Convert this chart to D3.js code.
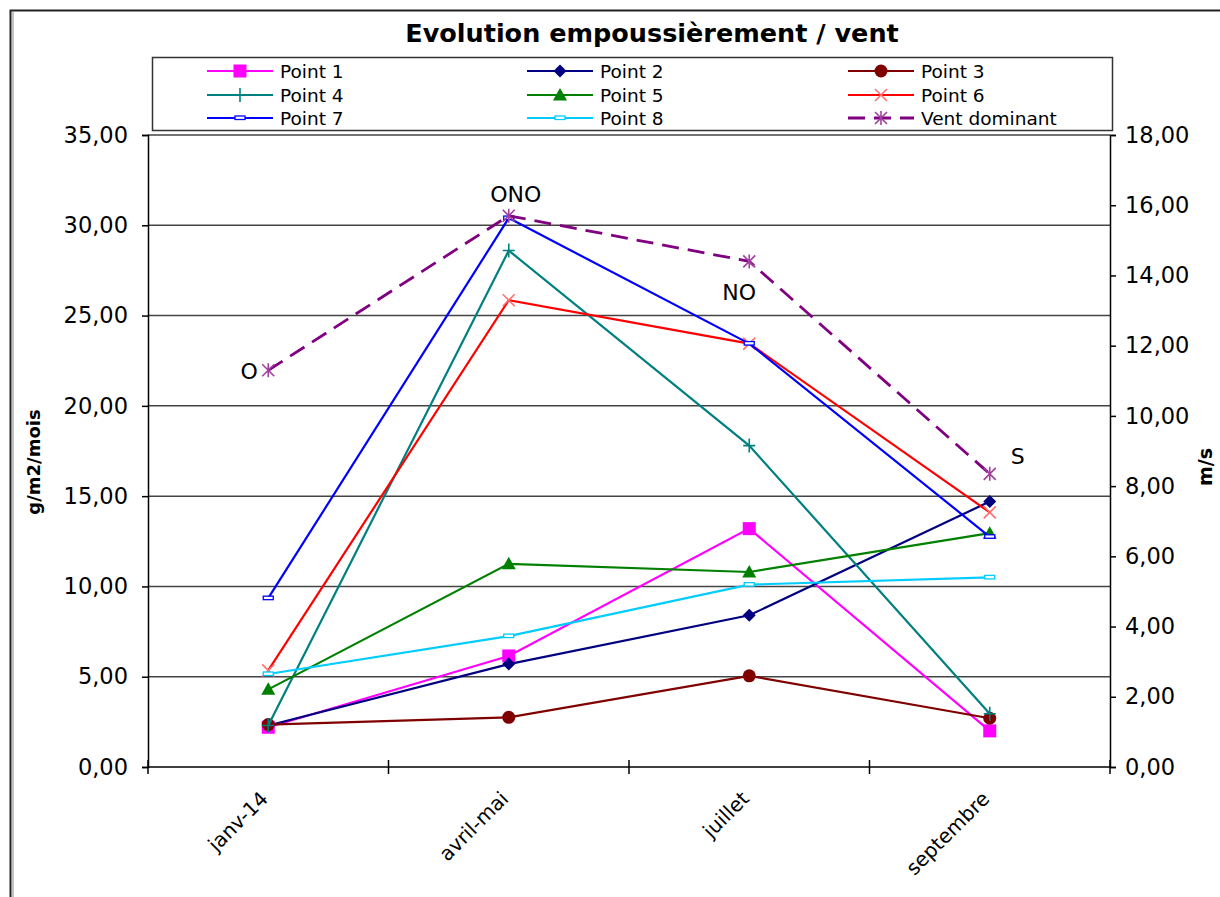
<!DOCTYPE html>
<html><head><meta charset="utf-8">
<script src="https://cdn.jsdelivr.net/npm/d3@7"></script>
<style>body{margin:0;background:#fff;overflow:hidden} text{font-family:"DejaVu Sans","Liberation Sans",Arial,sans-serif;fill:#000}</style>
</head><body><svg id="c" width="1220" height="897"></svg>
<script>
// ---- data ----
const categories = ["janv-14", "avril-mai", "juillet", "septembre"];
const point1 = [2.2, 6.15, 13.2, 2.0];
const point2 = [2.3, 5.7, 8.4, 14.7];
const point3 = [2.35, 2.75, 5.05, 2.7];
const point4 = [2.3, 28.6, 17.8, 2.95];
const point5 = [4.3, 11.25, 10.8, 12.95];
const point6 = [5.35, 25.85, 23.45, 14.1];
const point7 = [9.35, 30.4, 23.45, 12.75];
const point8 = [5.15, 7.25, 10.1, 10.5];
const ventDominant = [11.3, 15.7, 14.4, 8.35];
const ventLabels = ["O", "ONO", "NO", "S"];
const leftTicks = [0, 5, 10, 15, 20, 25, 30, 35];
const rightTicks = [0, 2, 4, 6, 8, 10, 12, 14, 16, 18];
const seriesNames = ["Point 1","Point 2","Point 3","Point 4","Point 5","Point 6","Point 7","Point 8","Vent dominant"];

// ---- styles ----
const series = [
  {name: seriesNames[0], values: point1, color: "#ff00ff", marker: "square", mcolor: "#ff00ff"},
  {name: seriesNames[1], values: point2, color: "#000080", marker: "diamond", mcolor: "#000080"},
  {name: seriesNames[2], values: point3, color: "#800000", marker: "circle", mcolor: "#800000"},
  {name: seriesNames[3], values: point4, color: "#008080", marker: "plus", mcolor: "#008080"},
  {name: seriesNames[4], values: point5, color: "#008000", marker: "triangle", mcolor: "#008000"},
  {name: seriesNames[5], values: point6, color: "#ff0000", marker: "x", mcolor: "#ff7070"},
  {name: seriesNames[6], values: point7, color: "#0000ff", marker: "dash", mcolor: "#0000ff"},
  {name: seriesNames[7], values: point8, color: "#00ccff", marker: "dash", mcolor: "#00ccff"},
  {name: seriesNames[8], values: ventDominant, color: "#800080", marker: "star", mcolor: "#a040a0", dashed: true, right: true}
];
const labelOffsets = [[-19, 9], [7, -14], [-10, 39], [28, -10]];

const svg = d3.select("#c");
const M = {left: 148, right: 1110, top: 135, bottom: 767};

// outer frame
svg.append("rect").attr("x", 10.5).attr("y", 10.5).attr("width", 1240).attr("height", 1000)
  .attr("fill", "none").attr("stroke", "#222").attr("stroke-width", 2);
svg.append("line").attr("x1", 13).attr("x2", 13).attr("y1", 12).attr("y2", 897).attr("stroke", "#888").attr("stroke-width", 1);

const x = d3.scaleBand().domain(categories).range([M.left, M.right]);
const cx = c => x(c) + x.bandwidth() / 2;
const yL = d3.scaleLinear().domain([0, 35]).range([M.bottom, M.top]);
const yR = d3.scaleLinear().domain([0, 18]).range([M.bottom, M.top]);
const fmt = v => d3.format(".2f")(v).replace(".", ",");

// gridlines
svg.append("g").selectAll("line").data(leftTicks.filter(t => t > 0)).join("line")
  .attr("x1", M.left).attr("x2", M.right).attr("y1", d => yL(d)).attr("y2", d => yL(d))
  .attr("stroke", "#444").attr("stroke-width", 1.5);

// left axis
const gL = svg.append("g").attr("transform", `translate(${M.left},0)`)
  .call(d3.axisLeft(yL).tickValues(leftTicks).tickFormat(fmt).tickSize(6).tickPadding(14));
// right axis
const gR = svg.append("g").attr("transform", `translate(${M.right},0)`)
  .call(d3.axisRight(yR).tickValues(rightTicks).tickFormat(fmt).tickSize(6).tickPadding(9));
[gL, gR].forEach(g => {
  g.select(".domain").attr("stroke", "#000").attr("stroke-width", 1.5);
  g.selectAll(".tick line").attr("stroke", "#000").attr("stroke-width", 1.5);
  g.selectAll(".tick text").style("font-size", "22.5px").attr("font-family", null).attr("fill", "#000");
});
// x axis
const gX = svg.append("g").attr("transform", `translate(0,${M.bottom})`);
gX.append("line").attr("x1", M.left).attr("x2", M.right).attr("stroke", "#000").attr("stroke-width", 1.5);
const bounds = categories.map(c => x(c)).concat([x(categories[categories.length - 1]) + x.bandwidth()]);
gX.selectAll("line.t").data(bounds).join("line").attr("class", "t")
  .attr("x1", d => d).attr("x2", d => d).attr("y1", -7).attr("y2", 7)
  .attr("stroke", "#000").attr("stroke-width", 1.5);
gX.selectAll("text").data(categories).join("text")
  .attr("transform", d => `translate(${cx(d) - 4},${28}) rotate(-45)`)
  .attr("text-anchor", "end").attr("dy", "0.35em").style("font-size", "20px").text(d => d);

// axis titles
svg.append("text").attr("transform", "translate(40,462) rotate(-90)").attr("text-anchor", "middle")
  .style("font-size", "18px").style("font-weight", "bold").text("g/m2/mois");
svg.append("text").attr("transform", "translate(1212,467) rotate(-90)").attr("text-anchor", "middle")
  .style("font-size", "19px").style("font-weight", "bold").text("m/s");

// title
svg.append("text").attr("x", 652).attr("y", 42).attr("text-anchor", "middle")
  .style("font-size", "25.5px").style("font-weight", "bold").text("Evolution empoussièrement / vent");

function drawMarker(g, type, color, px, py) {
  if (type === "square") g.append("rect").attr("x", px - 6.5).attr("y", py - 6.5).attr("width", 13).attr("height", 13).attr("fill", color);
  else if (type === "diamond") g.append("path").attr("d", `M${px},${py - 6.5}L${px + 6.5},${py}L${px},${py + 6.5}L${px - 6.5},${py}Z`).attr("fill", color);
  else if (type === "circle") g.append("circle").attr("cx", px).attr("cy", py).attr("r", 6.5).attr("fill", color);
  else if (type === "triangle") g.append("path").attr("d", `M${px},${py - 7}L${px + 7},${py + 5.5}L${px - 7},${py + 5.5}Z`).attr("fill", color);
  else if (type === "plus") g.append("path").attr("d", `M${px - 6},${py}H${px + 6}M${px},${py - 7}V${py + 7}`).attr("stroke", color).attr("stroke-width", 1.6);
  else if (type === "x") g.append("path").attr("d", `M${px - 6},${py - 6}L${px + 6},${py + 6}M${px + 6},${py - 6}L${px - 6},${py + 6}`).attr("stroke", color).attr("stroke-width", 1.6);
  else if (type === "star") g.append("path").attr("d", `M${px - 6},${py - 6}L${px + 6},${py + 6}M${px + 6},${py - 6}L${px - 6},${py + 6}M${px},${py - 7}V${py + 7}`).attr("stroke", color).attr("stroke-width", 1.6);
  else if (type === "dash") g.append("rect").attr("x", px - 5).attr("y", py - 2).attr("width", 10).attr("height", 3.5).attr("fill", "#fff").attr("stroke", color).attr("stroke-width", 1.3);
}

// series
const gS = svg.append("g");
series.forEach(s => {
  const y = s.right ? yR : yL;
  const line = d3.line().x((d, i) => cx(categories[i])).y(d => y(d));
  gS.append("path").datum(s.values).attr("d", line).attr("fill", "none").attr("stroke", s.color)
    .attr("stroke-width", s.dashed ? 2.8 : 2.2).attr("stroke-dasharray", s.dashed ? "17,9" : null);
  const gm = gS.append("g");
  s.values.forEach((v, i) => drawMarker(gm, s.marker, s.mcolor, cx(categories[i]), y(v)));
});

// wind labels
svg.append("g").selectAll("text").data(ventLabels).join("text")
  .attr("x", (d, i) => cx(categories[i]) + labelOffsets[i][0])
  .attr("y", (d, i) => yR(ventDominant[i]) + labelOffsets[i][1])
  .attr("text-anchor", "middle").style("font-size", "22px").text(d => d);

// legend
const lg = svg.append("g");
lg.append("rect").attr("x", 152.5).attr("y", 57.5).attr("width", 960).attr("height", 73)
  .attr("fill", "#fff").attr("stroke", "#333").attr("stroke-width", 1.5);
const colX = [207, 527, 848], rowY = [71, 95, 118];
series.forEach((s, i) => {
  const lx = colX[i % 3], ly = rowY[Math.floor(i / 3)];
  lg.append("line").attr("x1", lx).attr("x2", lx + 66).attr("y1", ly).attr("y2", ly)
    .attr("stroke", s.color).attr("stroke-width", s.dashed ? 2.8 : 2.2).attr("stroke-dasharray", s.dashed ? "17,9" : null);
  drawMarker(lg, s.marker, s.mcolor, lx + 33, ly);
  lg.append("text").attr("x", lx + 73).attr("y", ly).attr("dy", "0.36em").style("font-size", "18.5px").text(s.name);
});
</script></body></html>
